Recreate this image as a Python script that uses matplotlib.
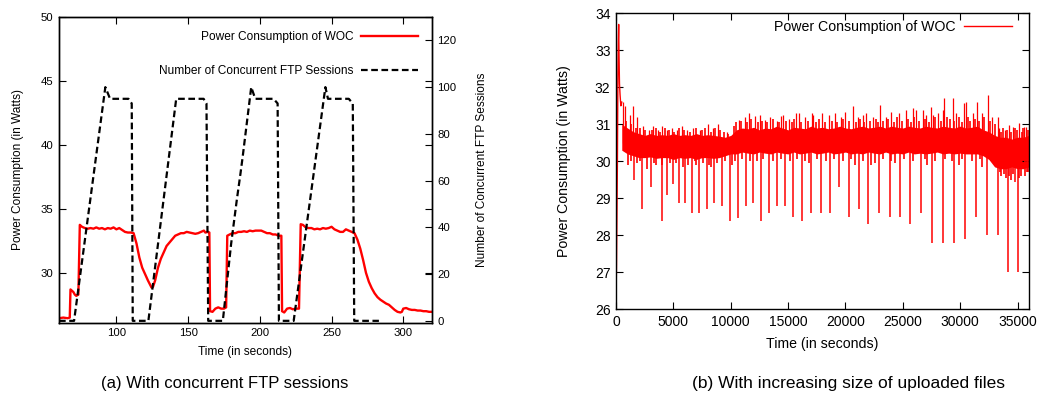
import matplotlib
matplotlib.use('Agg')
import matplotlib.pyplot as plt
import numpy as np

plt.rcParams['font.family'] = ['Liberation Sans', 'DejaVu Sans']

#------------------- (a) concurrent FTP sessions -------------------
power_t = [60, 63, 66, 67.5, 68, 69, 70, 71, 72, 73.5, 74.5, 76, 78, 80, 82, 84, 86, 88, 90,
           92, 94, 96, 98, 100, 102, 104, 106, 108, 110, 112, 114, 116, 118, 120, 122, 124.5,
           125.5, 127, 129, 131, 133, 135, 138, 141, 143, 145, 147, 149, 151, 153, 155, 157,
           159, 161, 162, 164, 164.8, 165.3, 167, 169, 171, 173, 175, 176.5, 177.3, 179, 181,
           183, 185, 187, 189, 191, 193, 195, 197, 199, 201, 203, 205, 207, 209, 211, 213, 215,
           215.5, 217, 219, 221, 223, 225, 227.3, 228.5, 230, 232, 234, 236, 238, 240, 242,
           244, 246, 248, 250, 252, 254, 256, 258, 260, 262, 264, 266, 268, 270, 272, 274,
           276, 278, 280, 282, 284, 286, 288, 290, 292, 294, 296, 298, 299, 300, 302, 304,
           306, 308, 310, 312, 314, 316, 318, 320]
power_w = [26.45, 26.5, 26.45, 26.5, 28.7, 28.6, 28.5, 28.3, 28.2, 28.3, 33.75, 33.6, 33.5,
           33.45, 33.5, 33.45, 33.55, 33.45, 33.5, 33.4, 33.5, 33.45, 33.55, 33.4, 33.5, 33.35,
           33.2, 33.15, 33.15, 33.1, 32.3, 31.2, 30.4, 29.9, 29.4, 28.85, 28.9, 29.4, 30.4,
           31.1, 31.6, 32.1, 32.5, 32.9, 33.0, 33.1, 33.1, 33.2, 33.15, 33.1, 33.05, 33.1,
           33.2, 33.3, 33.15, 33.2, 33.15, 27.0, 26.95, 27.2, 27.3, 27.2, 27.2, 27.3, 32.9,
           33.0, 33.1, 33.1, 33.2, 33.2, 33.25, 33.2, 33.3, 33.25, 33.3, 33.3, 33.3, 33.2,
           33.1, 33.1, 33.0, 33.0, 32.9, 32.9, 27.0, 26.9, 27.2, 27.25, 27.15, 27.2, 27.2,
           33.8, 33.75, 33.55, 33.5, 33.5, 33.4, 33.45, 33.4, 33.5, 33.45, 33.5, 33.6, 33.4,
           33.3, 33.2, 33.2, 33.4, 33.3, 33.2, 33.1, 32.6, 31.9, 31.0, 30.0, 29.3, 28.8, 28.4,
           28.1, 27.9, 27.75, 27.6, 27.5, 27.3, 27.1, 26.95, 26.9, 26.95, 27.2, 27.25, 27.15,
           27.1, 27.1, 27.05, 27.05, 27.0, 27.0, 26.95, 26.95]

ftp_t = [60, 70.5, 92.3, 95.6, 108.4, 110.7, 111.4, 122.3, 141.7, 160.8, 162.8, 164.0,
         174.2, 180, 184, 186.5, 188, 194, 196.8, 209.6, 212.4, 213.3, 223.6, 245.7, 247.5,
         262, 264.8, 265.8, 283]
ftp_n = [0, 0, 100, 95, 95, 93, 0, 0, 95, 95, 93, 0,
         0, 33, 52, 63, 70, 100, 95, 95, 93, 0, 0, 100, 95,
         95, 93, 0, 0]

#------------------- (b) increasing size of uploaded files -------------------
start_t = [0, 40, 80, 120, 160, 200, 230, 260, 300, 350, 420, 500]
start_v = [26.3, 27.2, 28.6, 30.0, 32.2, 33.3, 33.7, 32.9, 32.1, 31.8, 31.5, 31.6]

band_t = list(range(500, 36001, 500))
band_hi = [31.0, 30.9, 30.8, 30.75, 30.7, 30.75, 30.7, 30.72, 30.7, 30.75, 30.7, 30.72,
           30.7, 30.75, 30.7, 30.72, 30.7, 30.68, 30.65, 30.7,
           30.85, 30.9, 30.88, 30.92, 30.85, 30.9, 30.88, 30.95, 30.9, 30.85, 30.92, 30.9,
           30.88, 30.95, 30.9, 30.92, 30.88, 30.9, 30.95, 30.9, 30.88, 30.92, 30.95, 30.9,
           30.92, 30.95, 30.9, 30.95, 30.92, 30.9, 30.95, 30.92, 30.9, 30.95, 30.92, 30.9,
           30.95, 30.92, 30.9, 30.95, 30.9, 30.92, 30.95, 30.85,
           30.8, 30.7, 30.65, 30.65, 30.6, 30.65, 30.65, 30.7]
band_lo = [30.3, 30.2, 30.15, 30.1, 30.1, 30.12, 30.08, 30.1, 30.1, 30.05, 30.1, 30.08,
           30.1, 30.05, 30.1, 30.1, 30.08, 30.1, 30.15, 30.2,
           30.2, 30.25, 30.22, 30.2, 30.25, 30.22, 30.2, 30.25, 30.22, 30.2, 30.25, 30.2,
           30.22, 30.25, 30.2, 30.22, 30.25, 30.2, 30.22, 30.25, 30.2, 30.22, 30.2, 30.25,
           30.22, 30.2, 30.25, 30.2, 30.22, 30.2, 30.25, 30.2, 30.22, 30.2, 30.22, 30.25,
           30.2, 30.22, 30.2, 30.22, 30.2, 30.2, 30.2, 30.15,
           30.05, 29.85, 29.8, 29.8, 29.85, 29.8, 29.8, 29.85]

# tallest upward spikes
up_t = [640, 780, 1220, 1450, 1860, 2380, 2900, 3250, 3700, 3970, 4450, 4840, 5300, 5710,
        6200, 6730, 7300, 8030, 8450, 8850, 9630, 10700, 11200, 11570, 12150, 12530, 12960,
        13400, 14000, 14410, 14560, 15050, 15660, 15920, 16500, 17080, 17170, 17950, 18600,
        19050, 19600, 19920, 20650, 21100, 21520, 21810, 22400, 23000, 23500, 23980, 24700,
        25290, 25870, 26160, 26740, 27030, 27460, 27610, 28100, 28480, 28620, 29350, 29640,
        30360, 30510, 31090, 31470, 31900, 32390, 32800, 33260, 33410, 33900, 34280, 34570,
        35150, 35580, 35730]
up_v = [31.6, 31.5, 31.25, 31.5, 31.2, 30.95, 30.85, 30.95, 30.85, 30.95, 30.85, 30.9,
        30.85, 30.95, 30.85, 30.9, 30.85, 31.0, 30.9, 31.0, 30.8, 31.12, 31.2, 31.3, 31.22,
        31.25, 31.12, 31.2, 31.1, 31.22, 31.25, 31.15, 31.3, 31.3, 31.2, 31.3, 31.25, 31.3,
        31.25, 31.3, 31.2, 31.34, 31.5, 31.2, 31.25, 31.3, 31.2, 31.52, 31.2, 31.34, 31.3,
        31.38, 31.43, 31.4, 31.39, 31.25, 31.47, 31.25, 31.3, 31.39, 31.7, 31.7, 31.3, 31.57,
        31.6, 31.3, 31.6, 31.3, 31.8, 31.2, 31.2, 30.9, 30.85, 30.98, 30.93, 31.03, 30.93,
        30.94]

# smaller spikes on the top edge of the band
mid_t = [900, 1300, 1700, 2100, 2550, 3100, 3450, 3850, 4250, 4650, 5050, 5500, 5950, 6450,
         6950, 7500, 7750, 8250, 8650, 9100, 9400, 9800, 10250, 10450, 10900, 11400, 11800,
         12350, 12750, 13150, 13650, 14200, 14800, 15300, 15500, 16150, 16700, 17400, 17700,
         18250, 18800, 19300, 19800, 20300, 20900, 21300, 21650, 22100, 22650, 22800, 23250,
         23700, 24200, 24450, 24950, 25450, 25700, 26000, 26450, 26900, 27250, 27800, 28300,
         28850, 29100, 29500, 29900, 30150, 30700, 30900, 31250, 31650, 32100, 32600, 33050,
         33600, 33750, 34100, 34450, 34750, 34950, 35350, 35450, 35900]
mid_v = [31.1, 31.0, 30.9, 30.9, 30.85, 30.85, 30.9, 30.8, 30.9, 30.85, 30.8, 30.9, 30.85,
         30.8, 30.9, 30.85, 30.9, 30.8, 30.9, 30.85, 30.8, 30.75, 30.95, 31.05, 31.1, 31.05,
         31.15, 31.05, 31.1, 31.05, 31.15, 31.05, 31.1, 31.05, 31.15, 31.05, 31.1, 31.05,
         31.15, 31.05, 31.1, 31.05, 31.15, 31.1, 31.05, 31.15, 31.05, 31.1, 31.15, 31.05,
         31.1, 31.15, 31.05, 31.2, 31.1, 31.15, 31.05, 31.2, 31.1, 31.15, 31.05, 31.2, 31.1,
         31.2, 31.15, 31.1, 31.2, 31.05, 31.2, 31.1, 31.15, 31.1, 31.2, 31.1, 31.0,
         30.8, 30.9, 30.85, 30.8, 30.9, 30.85, 30.8, 30.9, 30.85]

# deep downward spikes
dip_t = [1570, 2290, 3030, 3970, 4410, 4930, 5480, 6000, 6610, 7250, 7890, 8560, 9250, 9920,
         10640, 11310, 11950, 12615, 13310, 14035, 14730, 15460, 16240, 17020, 17835, 18620,
         19430, 20270, 21140, 21980, 22910, 23840, 24770, 25665, 26595, 27550, 28510, 29465,
         30420, 31380, 32365, 33320, 34165, 34800, 35060]
dip_v = [29.5, 28.7, 29.3, 28.4, 29.1, 29.4, 28.88, 28.88, 28.6, 28.6, 28.7, 28.88, 28.8,
         28.4, 28.47, 28.8, 28.88, 28.4, 28.6, 28.8, 28.8, 28.5, 28.4, 28.6, 28.6, 28.6,
         29.3, 28.5, 28.7, 28.3, 28.6, 28.5, 28.5, 28.3, 28.6, 27.8, 27.8, 27.8, 27.9, 28.5,
         28.0, 28.0, 27.0, 29.45, 27.0]

# shallow spikes on the bottom edge of the band
low_t = [1000, 1300, 1800, 2100, 2700, 3300, 3500, 4000, 4700, 5200, 5800, 6300, 6900, 7000,
         7600, 8100, 8300, 8800, 9500, 10100, 10400, 11000, 11700, 12300, 12800, 13700, 14400,
         15200, 15800, 16500, 16800, 17500, 18300, 19000, 19800, 20500, 20800, 21500, 22240,
         22600, 23300, 24000, 24300, 25100, 25900, 26900, 27100, 27800, 28700, 29300, 29900,
         30200, 31000, 31700, 31900, 32700, 33200, 33450, 33600, 33800, 34000, 34250, 34400,
         34600, 35150, 35300, 35650, 35800, 35950]
low_v = [29.9, 30.0, 29.95, 30.0, 29.8, 29.95, 29.9, 29.9, 29.95, 29.95, 29.85, 29.9, 30.0,
         29.9, 29.95, 29.9, 29.85, 29.95, 30.0, 29.9, 30.0, 30.05, 30.0, 30.0, 30.05, 30.0,
         30.05, 30.0, 30.05, 30.0, 29.95, 30.05, 30.0, 30.05, 30.0, 30.05, 29.9, 30.0, 29.9,
         29.95, 30.05, 30.0, 29.95, 30.05, 30.0, 30.05, 29.9, 30.0, 30.05, 30.0, 29.9, 30.05,
         30.0, 30.05, 29.85, 30.0, 29.85, 29.7, 29.6, 29.65, 29.55, 29.6, 29.5, 29.65, 29.55,
         29.6, 29.6, 29.7, 29.7]

#------------------- figure -------------------
fig = plt.figure(figsize=(10.5, 4.05), dpi=100)

ax1 = fig.add_axes([0.0562, 0.2032, 0.3552, 0.7548])
ax2 = ax1.twinx()
ln1, = ax1.plot(power_t, power_w, color='#ff0000', lw=1.7, label='Power Consumption of WOC')
ln2, = ax2.plot(ftp_t, ftp_n, color='black', lw=1.6, ls=(0, (3, 1.6)),
                label='Number of Concurrent FTP Sessions')
ax1.set_xlim(60, 320)
ax1.set_ylim(26.1, 50)
ax2.set_ylim(-0.8, 130)
ax1.set_xticks([100, 150, 200, 250, 300])
ax1.set_yticks([30, 35, 40, 45, 50])
ax2.set_yticks([0, 20, 40, 60, 80, 100, 120])
ax1.tick_params(direction='in', top=True, right=True, labelsize=8.2, length=5, pad=4)
ax2.tick_params(direction='in', labelsize=8.2, length=5, pad=4)
ax1.set_xlabel('Time (in seconds)', fontsize=8.6)
ax1.set_ylabel('Power Consumption (in Watts)', fontsize=8.6)
ax2.set_ylabel('Number of Concurrent FTP Sessions', fontsize=8.6)
ax1.xaxis.set_label_coords(0.5, -0.075)
ax1.yaxis.set_label_coords(-0.093, 0.5)
ax2.yaxis.set_label_coords(1.118, 0.5)
ax2.legend(handles=[ln1, ln2], loc='upper right', bbox_to_anchor=(0.9625, 0.953),
           frameon=False, markerfirst=False, fontsize=8.6, handlelength=4.8,
           labelspacing=1.85, handletextpad=0.6, borderpad=0, borderaxespad=0)

ax3 = fig.add_axes([0.5867, 0.2363, 0.3933, 0.7308])
ax3.fill_between(band_t, band_lo, band_hi, color='#ff0000', lw=0)
ax3.vlines(up_t, 30.5, up_v, color='#ff0000', lw=0.9)
ax3.vlines(mid_t, 30.5, mid_v, color='#ff0000', lw=1.2)
ax3.vlines(dip_t, 30.3, dip_v, color='#ff0000', lw=1.1)
ax3.vlines(low_t, 30.4, low_v, color='#ff0000', lw=1.2)
ax3.plot(start_t, start_v, color='#ff0000', lw=1.0, label='Power Consumption of WOC')
ax3.set_xlim(0, 36000)
ax3.set_ylim(26, 34)
ax3.set_xticks(np.arange(0, 35001, 5000))
ax3.set_yticks(np.arange(26, 35, 1))
ax3.tick_params(direction='in', top=True, right=True, labelsize=10, length=5, pad=4)
ax3.set_xlabel('Time (in seconds)', fontsize=10.2)
ax3.set_ylabel('Power Consumption (in Watts)', fontsize=10.2)
ax3.xaxis.set_label_coords(0.5, -0.095)
ax3.yaxis.set_label_coords(-0.109, 0.5)
ax3.legend(loc='upper right', bbox_to_anchor=(0.959, 0.978), frameon=False,
           markerfirst=False, fontsize=10.2, handlelength=3.4, handletextpad=0.6,
           borderpad=0, borderaxespad=0)

for a in (ax1, ax2, ax3):
    for s in a.spines.values():
        s.set_linewidth(1.0)

fig.text(0.214, 0.054, '(a) With concurrent FTP sessions', ha='center', va='center', fontsize=12)
fig.text(0.808, 0.054, '(b) With increasing size of uploaded files', ha='center', va='center',
         fontsize=12.5)

fig.savefig('out.png', dpi=100)
